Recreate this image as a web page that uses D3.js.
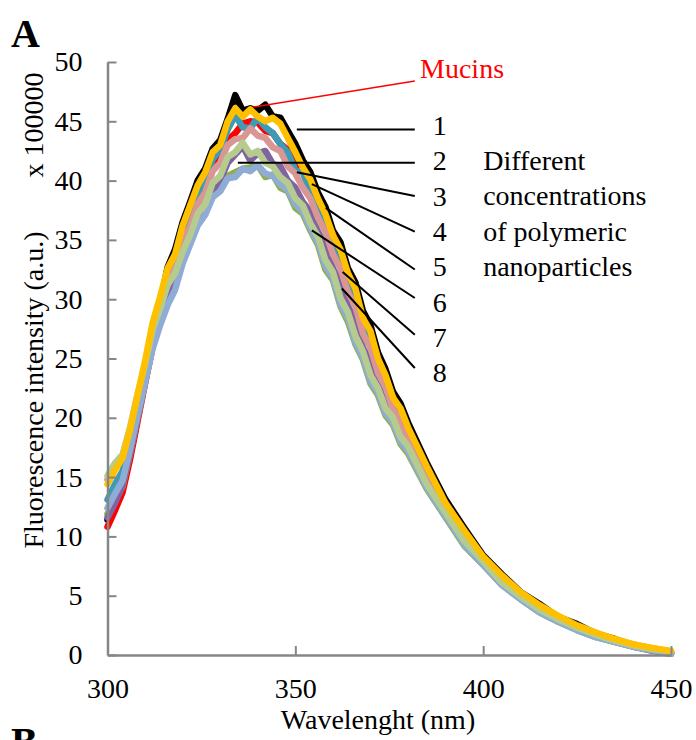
<!DOCTYPE html>
<html>
<head>
<meta charset="utf-8">
<script src="https://cdn.jsdelivr.net/npm/d3@7"></script>
<style>
  body { margin: 0; background: #fff; }
  svg text { font-family: "Liberation Serif", "Times New Roman", serif; }
</style>
</head>
<body>
<div id="chart"></div>
<script>
let width = 696,
    height = 740,
    margin = ({ top: 62, right: 25, bottom: 85, left: 107.5 });

// wavelength (nm)
const wavelengths = [300, 302, 304, 306, 308, 310, 312, 314, 316, 318, 320, 322, 324, 326, 328, 330,
  332, 334, 336, 338, 340, 342, 344, 346, 348, 350, 352, 354, 356, 358, 360, 362, 364, 366, 368, 370,
  372, 374, 376, 378, 380, 385, 390, 395, 400, 405, 410, 415, 420, 425, 430, 435, 440, 445, 450];

// fluorescence intensity, x 100000
const mucins = [11.4, 12.6, 14.0, 16.8, 20.0, 23.4, 26.8, 29.6, 32.7, 34.2, 36.5, 38.2, 40.0, 41.0, 42.7, 43.4,
  45.2, 47.2, 45.9, 46.1, 45.9, 46.4, 45.4, 45.3, 44.2, 43.1, 41.7, 40.7, 39.0, 37.8, 35.8, 34.8, 32.6, 31.4, 29.0, 27.8,
  25.5, 24.1, 22.2, 21.2, 19.6, 16.2, 13.1, 10.7, 8.4, 6.8, 5.3, 4.3, 3.2, 2.6, 1.8, 1.35, 0.8, 0.5, 0.2];
const conc1 = [10.8, 12.2, 13.7, 16.5, 19.7, 22.9, 26.0, 28.4, 30.6, 32.4, 34.8, 36.4, 38.4, 39.4, 41.2, 41.8,
  43.4, 44.0, 44.8, 45.0, 44.9, 44.2, 44.0, 43.1, 42.6, 41.3, 41.0, 39.4, 38.5, 36.5, 35.5, 33.4, 32.2, 30.1, 28.5, 26.5,
  25.0, 22.8, 21.8, 20.0, 19.1, 15.5, 12.6, 10.2, 8.1, 6.4, 5.1, 4.0, 3.1, 2.4, 1.8, 1.2, 0.8, 0.4, 0.1];
const conc2 = [11.9, 13.0, 14.2, 17.0, 20.0, 23.0, 26.0, 28.4, 30.2, 31.6, 33.8, 35.2, 37.0, 37.6, 39.0, 39.3,
  40.4, 40.7, 41.0, 41.1, 41.3, 40.3, 40.5, 39.4, 39.1, 37.7, 37.2, 35.8, 34.6, 32.5, 31.6, 29.4, 28.1, 26.2, 24.9, 22.9,
  21.9, 20.2, 19.4, 17.8, 17.0, 14.0, 11.6, 9.2, 7.6, 5.9, 4.7, 3.6, 2.8, 2.1, 1.5, 1.1, 0.7, 0.4, 0.15];
const conc3 = [11.6, 12.8, 14.3, 17.0, 20.0, 23.0, 26.0, 28.2, 30.0, 31.4, 33.4, 34.8, 36.6, 37.6, 39.2, 40.0,
  41.5, 42.2, 42.9, 41.7, 42.3, 42.5, 41.4, 41.2, 40.0, 39.4, 38.2, 37.4, 35.7, 34.6, 32.6, 31.4, 29.4, 28.2, 25.9, 24.8,
  22.8, 21.7, 20.0, 19.1, 17.7, 14.8, 11.9, 9.8, 7.7, 6.2, 4.9, 3.8, 2.9, 2.2, 1.6, 1.1, 0.7, 0.35, 0.1];
const conc4 = [13.1, 14.4, 15.5, 17.9, 20.6, 23.5, 26.6, 29.0, 31.4, 33.0, 35.4, 36.8, 38.9, 39.8, 41.8, 42.6,
  44.3, 45.5, 44.5, 44.4, 45.3, 44.5, 44.0, 43.1, 42.4, 40.9, 40.7, 38.9, 38.1, 36.0, 35.0, 33.0, 31.8, 29.7, 28.2, 26.2,
  24.8, 22.7, 21.6, 19.9, 18.9, 15.4, 12.5, 10.1, 8.1, 6.4, 5.0, 3.9, 3.0, 2.3, 1.7, 1.2, 0.8, 0.45, 0.15];
const conc5 = [14.8, 15.9, 16.6, 18.9, 21.7, 24.4, 27.3, 29.5, 31.7, 32.8, 34.7, 36.2, 38.0, 39.0, 40.8, 41.5,
  43.0, 43.5, 43.6, 44.4, 43.8, 43.6, 42.8, 42.5, 41.2, 40.6, 39.4, 38.5, 36.9, 35.7, 33.8, 32.6, 30.6, 29.4, 27.1, 25.9,
  23.8, 22.6, 20.7, 19.8, 18.3, 15.2, 12.2, 10.0, 7.9, 6.4, 5.0, 3.9, 3.1, 2.4, 1.8, 1.3, 0.9, 0.55, 0.3];
const conc6 = [12.4, 13.6, 14.7, 17.3, 20.2, 23.0, 25.8, 27.8, 29.5, 30.8, 33.0, 34.6, 36.2, 37.1, 38.6, 39.1,
  40.2, 40.3, 41.0, 40.8, 41.3, 40.6, 40.4, 39.7, 39.2, 38.0, 37.4, 36.0, 34.8, 32.8, 31.8, 29.6, 28.4, 26.4, 25.1, 23.1,
  22.1, 20.4, 19.6, 18.0, 17.2, 14.1, 11.7, 9.3, 7.6, 5.9, 4.7, 3.6, 2.8, 2.1, 1.5, 1.1, 0.7, 0.4, 0.1];
const conc7 = [15.1, 16.2, 16.9, 19.2, 22.0, 24.5, 27.4, 29.2, 31.2, 32.2, 34.0, 35.4, 37.2, 38.0, 39.8, 40.4,
  42.0, 42.4, 43.2, 42.2, 42.5, 41.5, 41.2, 40.3, 39.8, 38.5, 37.9, 36.4, 35.3, 33.3, 32.3, 30.1, 28.9, 26.9, 25.6, 23.6,
  22.5, 20.8, 20.0, 18.4, 17.6, 14.4, 12.0, 9.6, 7.9, 6.1, 4.9, 3.8, 3.0, 2.3, 1.7, 1.2, 0.8, 0.5, 0.3];
const conc8 = [14.4, 15.6, 16.6, 19.0, 21.9, 24.8, 28.0, 30.2, 32.6, 33.8, 36.2, 37.9, 39.6, 40.7, 42.4, 43.0,
  45.0, 46.1, 45.4, 46.0, 45.4, 45.0, 45.3, 44.8, 43.6, 42.4, 41.1, 40.1, 38.5, 37.2, 35.4, 34.2, 32.2, 30.9, 28.4, 27.3,
  25.0, 23.6, 21.7, 20.8, 19.2, 15.9, 12.8, 10.5, 8.3, 6.7, 5.3, 4.2, 3.3, 2.5, 1.9, 1.35, 0.9, 0.6, 0.35];

const xTicks = [300, 350, 400, 450];
const yTicks = [0, 5, 10, 15, 20, 25, 30, 35, 40, 45, 50];

// drawing order, bottom to top
const series = [
  { values: mucins, color: "#000000" },
  { values: conc1, color: "#ff0000" },
  { values: conc2, color: "#8db04e" },
  { values: conc3, color: "#8064a2" },
  { values: conc4, color: "#3e9bb6" },
  { values: conc5, color: "#d99694" },
  { values: conc6, color: "#8eacd6" },
  { values: conc7, color: "#b5cc8e" },
  { values: conc8, color: "#ffc000" }
];

// leader lines: from a point on the curves [wl, value] to the label
const leaderLabels = ["1", "2", "3", "4", "5", "6", "7", "8"];
const leaderFrom = [[350.4, 44.3], [334.7, 41.5], [350.4, 40.7], [354.4, 39.7], [358.1, 37.7], [354.4, 35.8], [362.6, 32.3], [362.4, 30.9]];
const leaderTo = [44.3, 41.5, 38.7, 35.7, 32.5, 30.1, 27.0, 24.2];
const noteLines = ["Different", "concentrations", "of polymeric", "nanoparticles"];

const svg = d3.select("#chart")
  .append("svg")
  .attr("width", width)
  .attr("height", height)
  .attr("viewBox", [0, 0, width, height]);

let x = d3.scaleLinear()
  .domain([300, 450])
  .range([margin.left, width - margin.right]);

let y = d3.scaleLinear()
  .domain([0, 50])
  .range([height - margin.bottom, margin.top]);

let line = d3.line()
  .x((d, i) => x(wavelengths[i]))
  .y(d => y(d));

for (let s of series) {
  svg.append("path")
    .datum(s.values)
    .attr("fill", "none")
    .attr("stroke", s.color)
    .attr("stroke-width", 6.5)
    .attr("stroke-linejoin", "round")
    .attr("stroke-linecap", "round")
    .attr("d", line);
}

// axes
let xAxis = svg.append("g")
  .attr("transform", `translate(0,${y(0)})`)
  .call(d3.axisBottom(x).tickValues(xTicks).tickSizeInner(-9).tickSizeOuter(0).tickPadding(23));

let yAxis = svg.append("g")
  .attr("transform", `translate(${x(300)},0)`)
  .call(d3.axisLeft(y).tickValues(yTicks).tickSizeInner(-9).tickSizeOuter(0).tickPadding(25));

for (let g of [xAxis, yAxis]) {
  g.select(".domain").attr("stroke", "#868686").attr("stroke-width", 2.5);
  g.selectAll(".tick line").attr("stroke", "#868686").attr("stroke-width", 2);
  g.selectAll(".tick text")
    .attr("fill", "#000")
    .style("font-family", '"Liberation Serif", "Times New Roman", serif')
    .style("font-size", "28px");
}

// axis titles
svg.append("text")
  .attr("x", 378)
  .attr("y", 729)
  .attr("text-anchor", "middle")
  .attr("font-size", 28)
  .text("Wavelenght (nm)");

svg.append("text")
  .attr("transform", "translate(33,390) rotate(-90)")
  .attr("text-anchor", "middle")
  .attr("dy", "0.35em")
  .attr("font-size", 28)
  .text("Fluorescence intensity (a.u.)");

svg.append("text")
  .attr("transform", "translate(33,125) rotate(-90)")
  .attr("text-anchor", "middle")
  .attr("dy", "0.35em")
  .attr("font-size", 28)
  .text("x 100000");

// panel letters
svg.append("text").attr("x", 11).attr("y", 47).attr("font-size", 40).attr("font-weight", "bold").text("A");
svg.append("text").attr("x", 11).attr("y", 755).attr("font-size", 40).attr("font-weight", "bold").text("B");

// Mucins annotation
svg.append("line")
  .attr("x1", x(338.7)).attr("y1", y(46.2))
  .attr("x2", x(381.8)).attr("y2", y(48.4))
  .attr("stroke", "#ff0000").attr("stroke-width", 1.5);

svg.append("text")
  .attr("x", x(383.2))
  .attr("y", y(48.65))
  .attr("font-size", 28)
  .attr("fill", "#ff0000")
  .text("Mucins");

// numbered leaders
leaderLabels.forEach((lab, i) => {
  svg.append("line")
    .attr("x1", x(leaderFrom[i][0])).attr("y1", y(leaderFrom[i][1]))
    .attr("x2", x(381.8)).attr("y2", y(leaderTo[i]))
    .attr("stroke", "#000").attr("stroke-width", 2);

  svg.append("text")
    .attr("x", x(386.6))
    .attr("y", 135 + i * 35.3)
    .attr("font-size", 28)
    .text(lab);
});

noteLines.forEach((t, i) => {
  svg.append("text")
    .attr("x", x(400))
    .attr("y", 170 + i * 35.3)
    .attr("font-size", 28)
    .text(t);
});
</script>
</body>
</html>
